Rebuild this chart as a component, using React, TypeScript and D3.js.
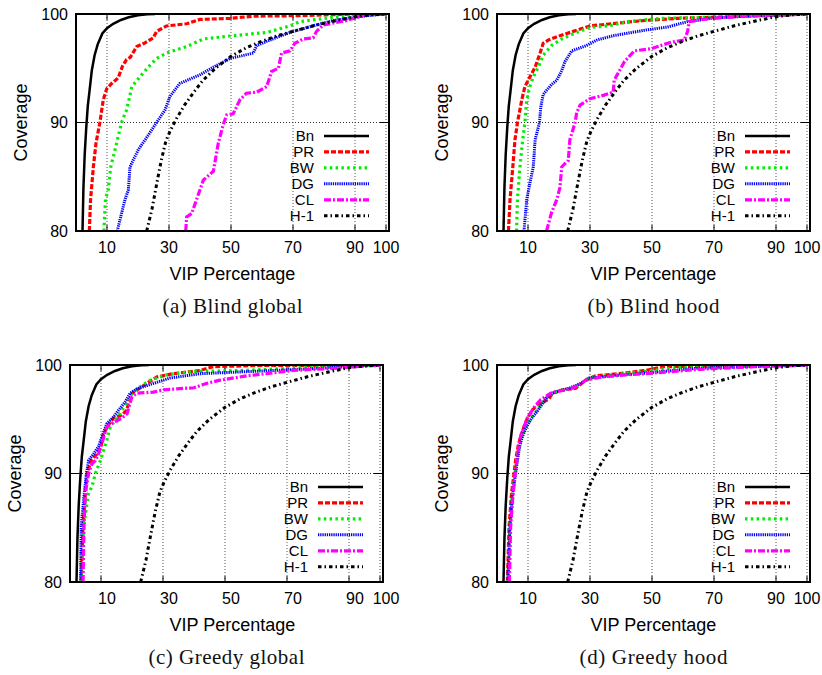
import React from "react";
import * as d3 from "d3";

type Pt = [number, number];

// ---------- data (VIP percentage, coverage) ----------
const xTicks = [10, 30, 50, 70, 90, 100];
const yTicks = [80, 90, 100];
const seriesNames = ["Bn", "PR", "BW", "DG", "CL", "H-1"];
const captions = ["(a) Blind global", "(b) Blind hood", "(c) Greedy global", "(d) Greedy hood"];

const bnCurve: Pt[] = [[2.1,80],[2.4,84],[2.8,87],[3.3,89.5],[3.8,91.5],[4.4,93],[5.1,94.8],[6.0,96.2],[7.0,97.2],[8.5,98.2],[10,98.7],[12,99.1],[14.5,99.45],[17,99.7],[20,99.88],[23,99.97],[25.5,100]];
const h1Curve: Pt[] = [[22.8,80],[24.5,82],[26,84.3],[27.5,86.5],[29,88.3],[30.5,89.3],[32.5,90.4],[35,91.6],[38,92.8],[41,93.9],[45,95.0],[50,96.1],[55,96.9],[60,97.5],[65,98.0],[70,98.4],[77,98.95],[84,99.4],[90,99.75],[95,99.92],[100,100]];

const prBlindGlobal: Pt[] = [[4.3,80],[4.7,82.9],[5.6,85.9],[6.45,88.1],[7.7,90],[8.8,92.1],[9.9,93.1],[11.5,93.6],[13.6,94.1],[15,95.2],[16.3,95.8],[17.5,96],[19.6,97],[22,97.3],[24.9,97.8],[26,98.4],[29.2,98.9],[35.7,99.1],[40,99.5],[49.7,99.6],[57.2,99.8],[72,99.85],[90,100],[100,100]];
const bwBlindGlobal: Pt[] = [[9.0,80],[9.5,82.9],[10.4,83.8],[11.2,85.9],[12.6,87.5],[14.7,90],[16.3,91.15],[17.1,92.1],[18,93.3],[20.6,94.2],[23.3,95.1],[26,95.9],[29.2,96.4],[35.7,97.0],[41.1,97.7],[50.7,98.0],[61.5,98.3],[69,98.9],[72.3,99.3],[83,99.7],[91.6,99.9],[100,100]];
const dgBlindGlobal: Pt[] = [[13.3,80],[15.8,82.9],[16.9,83.8],[17.4,85.9],[20.1,87.5],[22.3,88.4],[26,90],[28.7,91.15],[30.3,92.4],[33.5,93.6],[40,94.4],[44.3,95.1],[49.7,95.9],[57.2,96.4],[58.3,97.1],[62.6,97.6],[69,98.3],[77.6,99.0],[83,99.4],[94,99.85],[100,100]];
const clBlindGlobal: Pt[] = [[35.4,80],[35.7,81.3],[37.3,81.6],[41.1,84.7],[44.3,85.5],[45.9,88.1],[47.5,89.8],[48.6,90.7],[50.7,90.8],[52.9,92.1],[55,92.7],[58.3,92.8],[61.5,93.3],[63.1,94.7],[65.3,95.0],[66.3,96.4],[69,96.6],[70.6,97.3],[73.3,97.7],[76.5,97.8],[77.6,98.4],[79.8,99.0],[87.3,99.4],[94,100],[100,100]];

const prBlindHood: Pt[] = [[3.7,80],[4.2,82.9],[5.1,85.9],[5.8,88.4],[6.6,90],[8.0,92.1],[9.0,93.3],[10.6,94.2],[12.3,95.1],[13.9,96.4],[14.9,97.3],[16.6,97.6],[20.3,98.0],[24.6,98.4],[30,98.9],[36.8,99.1],[47.5,99.4],[58.3,99.6],[79.8,99.8],[90.6,99.9],[100,100]];
const bwBlindHood: Pt[] = [[6.3,80],[6.6,82.9],[7.4,85.9],[8.3,88.4],[9.0,90],[9.6,92.1],[10.6,93.3],[11.7,94.2],[13.3,95.1],[14.9,96.2],[17.6,97.1],[20.9,97.7],[25.7,98.3],[30,98.75],[36.8,98.95],[42.1,99.3],[52.9,99.6],[69,99.7],[79.8,99.8],[100,100]];
const dgBlindHood: Pt[] = [[8.7,80],[9.6,82.9],[10.6,84.4],[11.7,85.9],[12.3,88.4],[13.7,90],[14.1,91.4],[14.9,92.6],[17.6,93.5],[19.3,93.9],[20.9,94.8],[21.9,95.6],[24.1,96.6],[28.9,97.1],[32.2,97.6],[37.5,98.0],[47.5,98.5],[55,98.8],[61.5,99.3],[69,99.6],[79.8,99.8],[100,100]];
const clBlindHood: Pt[] = [[16,80],[17.6,81.7],[19.3,82.9],[20.3,84],[20.9,85.9],[21.9,86.2],[23,86.5],[23.5,88.4],[25.2,90],[25.7,90.9],[26.8,91.6],[30,92.2],[34.3,92.5],[37.5,92.8],[37.8,93.9],[41.1,95.6],[44.3,96.6],[49.7,96.8],[56.1,97.4],[60.4,97.6],[61.5,98.4],[62,99.3],[69,99.6],[79.8,99.8],[90.6,99.9],[100,100]];

const prGreedyGlobal: Pt[] = [[3.6,80],[4.2,85.1],[4.95,88.2],[5.5,90],[6.8,91.2],[8.7,91.8],[10,92.5],[10.6,93.4],[11.9,94.3],[14,95.1],[16.7,95.4],[18.4,95.85],[18.9,96.6],[20,97.4],[21.6,97.7],[24.8,98.3],[28,98.9],[33.3,99.2],[42,99.5],[46.2,99.85],[60,99.95],[100,100]];
const bwGreedyGlobal: Pt[] = [[3.6,80],[4.4,85.1],[6.0,88.2],[7.1,88.8],[8.2,90],[9.8,91.2],[10.8,92.1],[11.9,93.1],[13,94.3],[15.1,95.1],[16.8,95.85],[17.6,96.2],[18.9,96.8],[20,97.4],[22.6,98.0],[25.9,98.6],[31.2,99.1],[39.8,99.4],[55.9,99.5],[79.4,99.8],[100,100]];
const dgGreedyGlobal: Pt[] = [[3.4,80],[3.6,85.1],[4.6,88.2],[5.3,90],[6.0,91.2],[7.6,91.8],[9.2,92.5],[10.3,93.4],[11.9,94.6],[14,95.2],[15.7,95.85],[17.8,96.6],[19.4,97.4],[21.6,97.8],[26.9,98.3],[32.3,98.8],[42,99.2],[58,99.4],[74,99.6],[90,99.85],[100,100]];
const clGreedyGlobal: Pt[] = [[4.2,80],[4.5,85],[4.95,88.2],[6.0,90],[7.1,90.9],[8.2,91.2],[9.2,91.8],[10.3,92.8],[11.9,94.3],[14,94.7],[16.7,95.1],[18.4,95.5],[19.2,96.3],[20,97.1],[21.6,97.4],[26.9,97.5],[30.1,97.7],[34.4,97.8],[40,97.9],[44,98.3],[48.4,98.6],[57,99.0],[63.4,99.2],[71.9,99.5],[85.9,99.7],[100,100]];

const prGreedyHood: Pt[] = [[3.35,80],[3.9,85.1],[4.7,88.2],[5.5,90],[6.0,91.2],[6.8,92.5],[7.6,93.4],[8.7,94.3],[9.8,95.1],[11.4,95.85],[13,96.3],[15.2,96.6],[16.8,96.9],[17.9,97.4],[21.1,97.7],[25.4,97.85],[28.6,98.6],[31.8,99.0],[39.4,99.2],[48,99.5],[53.9,99.85],[100,100]];
const bwGreedyHood: Pt[] = [[3.5,80],[4.1,85.1],[5.0,88.2],[5.8,90],[6.4,91.2],[7.1,92.5],[8.0,93.4],[9.3,94.3],[10.9,95.1],[13,95.85],[14.6,96.5],[16.3,97.1],[17.9,97.4],[21.1,97.7],[24.3,97.85],[27,98.3],[29.7,98.8],[37.2,99.1],[44.7,99.3],[59,99.8],[100,100]];
const dgGreedyHood: Pt[] = [[3.5,80],[4.2,85.1],[5.1,88.2],[6.0,90],[6.6,91.2],[7.3,92.5],[8.2,93.4],[9.5,94.3],[11.2,95.1],[13.3,95.85],[14.8,96.5],[16.3,97.1],[17.8,97.4],[21,97.7],[23.2,97.85],[27,98.3],[29.7,98.8],[37.2,99.0],[45.8,99.2],[64.6,99.7],[100,100]];
const clGreedyHood: Pt[] = [[4.0,80],[4.4,85.1],[5.2,88.2],[5.9,90],[6.4,91.2],[7.0,92.5],[7.6,93.4],[8.7,94.3],[9.8,95.1],[11.4,95.85],[12.5,96.3],[14.1,96.8],[15.7,97.1],[17.9,97.5],[22.2,97.7],[25.4,98.0],[28.6,98.6],[34,98.9],[41.5,99.1],[48,99.2],[65,99.6],[80,99.8],[100,100]];

const panelData: Pt[][][] = [
  [bnCurve, prBlindGlobal, bwBlindGlobal, dgBlindGlobal, clBlindGlobal, h1Curve],
  [bnCurve, prBlindHood, bwBlindHood, dgBlindHood, clBlindHood, h1Curve],
  [bnCurve, prGreedyGlobal, bwGreedyGlobal, dgGreedyGlobal, clGreedyGlobal, h1Curve],
  [bnCurve, prGreedyHood, bwGreedyHood, dgGreedyHood, clGreedyHood, h1Curve],
];

// ---------- styles / layout ----------
const styles = [
  { color: "#000000", width: 2.5, dash: "" },
  { color: "#ff0000", width: 3.2, dash: "5 2" },
  { color: "#00ee00", width: 3.2, dash: "2.5 3.3" },
  { color: "#0000ff", width: 3, dash: "1.3 0.9" },
  { color: "#ff00ff", width: 3.2, dash: "7 2 2 2" },
  { color: "#000000", width: 3, dash: "3.5 3 1.5 3" },
];

const layouts = [
  { left: 76, top: 14, shift: 0 },
  { left: 497, top: 14, shift: 0 },
  { left: 70, top: 365, shift: 6 },
  { left: 497, top: 365, shift: 0 },
];
const FW = 313;
const FH = 217;
const SANS = "'Liberation Sans', Arial, Helvetica, sans-serif";
const SERIF = "'Liberation Serif', 'Times New Roman', serif";
const captionWidths = [140, 132, 156, 148];

function Panel({ idx }: { idx: number }) {
  const { left, top, shift } = layouts[idx];
  const right = left + FW;
  const bottom = top + FH;
  const x = d3.scaleLinear().domain([0, 100]).range([left, left + 310]);
  const y = d3.scaleLinear().domain([80, 100]).range([bottom, top]);
  const line = d3
    .line<Pt>()
    .x((d) => x(d[0]))
    .y((d) => y(d[1]));
  const clipId = `clip-${idx}`;
  const cx = (left + right) / 2;
  const cy = (top + bottom) / 2;
  return (
    <g>
      <defs>
        <clipPath id={clipId}>
          <rect x={left} y={top} width={FW} height={FH} />
        </clipPath>
      </defs>
      {/* grid */}
      {xTicks.map((t) => (
        <line key={"gx" + t} x1={x(t)} x2={x(t)} y1={top} y2={bottom} stroke="#555" strokeWidth={1} strokeDasharray="1 2" />
      ))}
      {yTicks
        .filter((t) => t !== 80 && t !== 100)
        .map((t) => (
          <line key={"gy" + t} x1={left} x2={right} y1={y(t)} y2={y(t)} stroke="#333" strokeWidth={1} strokeDasharray="1 2" />
        ))}
      {/* ticks */}
      {xTicks.map((t) => (
        <g key={"tx" + t}>
          <line x1={x(t)} x2={x(t)} y1={bottom} y2={bottom - 6} stroke="#000" strokeWidth={1} />
          <line x1={x(t)} x2={x(t)} y1={top} y2={top + 6} stroke="#000" strokeWidth={1} />
          <text x={x(t) + shift} y={bottom + 22} textAnchor="middle" fontFamily={SANS} fontSize={16} fill="#000">
            {t}
          </text>
        </g>
      ))}
      {yTicks.map((t) => (
        <g key={"ty" + t}>
          <line x1={left} x2={left + 9} y1={y(t)} y2={y(t)} stroke="#000" strokeWidth={1} />
          <line x1={right} x2={right - 9} y1={y(t)} y2={y(t)} stroke="#000" strokeWidth={1} />
          <text x={left - 8} y={y(t)} dy="0.36em" textAnchor="end" fontFamily={SANS} fontSize={16} fill="#000">
            {t}
          </text>
        </g>
      ))}
      {/* curves */}
      <g clipPath={`url(#${clipId})`}>
        {panelData[idx].map((s, i) => (
          <path
            key={seriesNames[i]}
            d={line(s) || ""}
            fill="none"
            stroke={styles[i].color}
            strokeWidth={styles[i].width}
            strokeDasharray={styles[i].dash || undefined}
          />
        ))}
      </g>
      {/* frame */}
      <rect x={left} y={top} width={FW} height={FH} fill="none" stroke="#000" strokeWidth={2} />
      {/* legend */}
      {seriesNames.map((n, i) => {
        const ry = top + 122 + i * 15.95;
        return (
          <g key={"lg" + n}>
            <text x={right - 75} y={ry + 5.3} textAnchor="end" fontFamily={SANS} fontSize={15} fill="#000">
              {n}
            </text>
            <line
              x1={right - 65}
              x2={right - 20}
              y1={ry}
              y2={ry}
              stroke={styles[i].color}
              strokeWidth={styles[i].width}
              strokeDasharray={styles[i].dash || undefined}
            />
          </g>
        );
      })}
      {/* axis titles */}
      <text x={cx + shift} y={bottom + 49} textAnchor="middle" fontFamily={SANS} fontSize={18} fill="#000">
        VIP Percentage
      </text>
      <text
        transform={`translate(${left - 49},${cy}) rotate(-90)`}
        textAnchor="middle"
        fontFamily={SANS}
        fontSize={18}
        fill="#000"
      >
        Coverage
      </text>
      <text
        x={cx}
        y={bottom + 82}
        textAnchor="middle"
        fontFamily={SERIF}
        fontSize={21}
        fill="#111"
        textLength={captionWidths[idx]}
        lengthAdjust="spacing"
      >
        {captions[idx]}
      </text>
    </g>
  );
}

export default function App() {
  return (
    <svg
      width={822}
      height={675}
      viewBox="0 0 822 675"
      style={{ position: "absolute", left: 0, top: 0, display: "block", background: "#fff" }}
    >
      <rect x={0} y={0} width={822} height={675} fill="#fff" />
      {[0, 1, 2, 3].map((i) => (
        <Panel key={i} idx={i} />
      ))}
    </svg>
  );
}
